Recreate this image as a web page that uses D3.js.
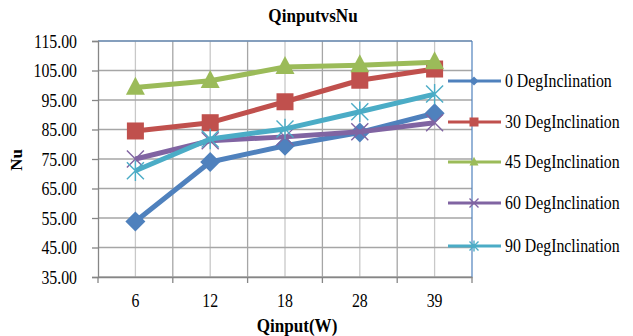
<!DOCTYPE html>
<html><head><meta charset="utf-8">
<script src="https://cdn.jsdelivr.net/npm/d3@7"></script>
<style>body{margin:0;background:#fff}svg{display:block}</style>
</head><body><svg id="c" width="633" height="336"></svg>
<script>
const categories = ["6","12","18","28","39"];
const seriesNames = ["0 DegInclination","30 DegInclination","45 DegInclination","60 DegInclination","90 DegInclination"];
const deg0  = [53.8, 74.0, 79.5, 84.0, 90.5];
const deg30 = [84.5, 87.3, 94.4, 101.7, 105.5];
const deg45 = [99.2, 101.5, 106.2, 106.8, 107.8];
const deg60 = [75.0, 81.2, 82.5, 84.2, 87.3];
const deg90 = [71.0, 81.8, 85.2, 91.0, 97.0];
const yTicks = [35,45,55,65,75,85,95,105,115];
const colors = ["#4F81BD","#C0504D","#9BBB59","#8064A2","#4BACC6"];
const markers = ["diamond","square","triangle","x","star"];
const allSeries = [deg0,deg30,deg45,deg60,deg90];

const svg = d3.select("#c");
const L=98,R=472,T=41,B=277;
const x = d3.scaleBand().domain(categories).range([L,R]);
const y = d3.scaleLinear().domain([35,115]).range([B,T]);
const font = "Liberation Serif, DejaVu Serif, serif";
const SX = 0.88;

const g = svg.append("g");
categories.forEach(c=>{
  g.append("line").attr("x1",x(c)+x.bandwidth()/2).attr("x2",x(c)+x.bandwidth()/2)
   .attr("y1",T).attr("y2",B).attr("stroke","#c8c8c8").attr("stroke-width",1.3);
});
categories.forEach((c,i)=>{
  if(i>0) g.append("line").attr("x1",x(c)).attr("x2",x(c)).attr("y1",T).attr("y2",B)
   .attr("stroke","#a6a6a6").attr("stroke-width",1.3);
});
yTicks.forEach(t=>{
  g.append("line").attr("x1",L).attr("x2",R).attr("y1",y(t)).attr("y2",y(t))
   .attr("stroke","#a6a6a6").attr("stroke-width",1.3);
});
g.append("line").attr("x1",L).attr("x2",R).attr("y1",T).attr("y2",T).attr("stroke","#4F81BD").attr("stroke-width",1.2);
g.append("line").attr("x1",R).attr("x2",R).attr("y1",T).attr("y2",B).attr("stroke","#4F81BD").attr("stroke-width",1.2);

// y axis (labels drawn separately for condensed text)
const yAxis = d3.axisLeft(y).tickValues(yTicks).tickSize(6).tickFormat("");
const ya = svg.append("g").attr("transform",`translate(${L},0)`).call(yAxis);
ya.select(".domain").attr("stroke","#868686").attr("stroke-width",1.3);
ya.selectAll(".tick line").attr("stroke","#868686").attr("stroke-width",1.3);
ya.selectAll(".tick").append("text")
  .attr("transform",`translate(-21,6) scale(${SX},1)`).attr("text-anchor","end")
  .style("font-family",font).style("font-size","18px").attr("fill","#000")
  .text(d=>d3.format(".2f")(d));

const xAxis = d3.axisBottom(x).tickSize(0).tickFormat("");
const xa = svg.append("g").attr("transform",`translate(0,${B})`).call(xAxis);
xa.select(".domain").attr("stroke","#868686").attr("stroke-width",1.3);
xa.selectAll(".tick").append("text")
  .attr("transform",`translate(0,30) scale(${SX},1)`).attr("text-anchor","middle")
  .style("font-family",font).style("font-size","18px").attr("fill","#000").text(d=>d);
const bounds = categories.map(c=>x(c)).concat([R]);
xa.selectAll(".btick").data(bounds).enter().append("line").attr("class","btick")
  .attr("x1",d=>d).attr("x2",d=>d).attr("y1",0).attr("y2",6).attr("stroke","#868686").attr("stroke-width",1.3);

function drawMarker(sel,type,color,s){
  if(type==="diamond"){
    sel.append("path").attr("d",`M0,${-s}L${s},0L0,${s}L${-s},0Z`).attr("fill",color);
  } else if(type==="square"){
    sel.append("rect").attr("x",-s).attr("y",-s).attr("width",2*s).attr("height",2*s).attr("fill",color);
  } else if(type==="triangle"){
    sel.append("path").attr("d",`M0,${-s*1.15}L${s},${s*0.75}L${-s},${s*0.75}Z`).attr("fill",color);
  } else if(type==="x"){
    sel.append("path").attr("d",`M${-s},${-s}L${s},${s}M${-s},${s}L${s},${-s}`).attr("stroke",color).attr("stroke-width",1.4);
  } else {
    sel.append("path").attr("d",`M${-s},${-s}L${s},${s}M${-s},${s}L${s},${-s}M0,${-s*1.2}L0,${s*1.2}`).attr("stroke",color).attr("stroke-width",1.4);
  }
}
const msize=[10,8.5,9.5,8.5,8.5];

const line = d3.line().x((d,i)=>x(categories[i])+x.bandwidth()/2).y(d=>y(d));
allSeries.forEach((vals,si)=>{
  const sg = svg.append("g");
  sg.append("path").attr("d",line(vals)).attr("fill","none").attr("stroke",colors[si])
    .attr("stroke-width",5).attr("stroke-linejoin","round");
  vals.forEach((v,i)=>{
    const mg = sg.append("g").attr("transform",`translate(${x(categories[i])+x.bandwidth()/2},${y(v)})`);
    drawMarker(mg,markers[si],colors[si],msize[si]);
  });
});

const legY=[81,122,162,203,246];
seriesNames.forEach((n,si)=>{
  const lg = svg.append("g").attr("transform",`translate(0,${legY[si]})`);
  lg.append("line").attr("x1",448).attr("x2",501).attr("y1",0).attr("y2",0).attr("stroke",colors[si]).attr("stroke-width",3);
  const mg = lg.append("g").attr("transform","translate(474,0)");
  drawMarker(mg,markers[si],colors[si],4.5);
  lg.append("text").attr("transform",`translate(505,6) scale(${SX},1)`).style("font-family",font).style("font-size","18px").text(n);
});

svg.append("text").attr("transform",`translate(313,22) scale(0.9,1)`).attr("text-anchor","middle").style("font-family",font)
  .style("font-weight","bold").style("font-size","19px").text("QinputvsNu");
svg.append("text").attr("transform",`translate(297,332) scale(0.9,1)`).attr("text-anchor","middle").style("font-family",font)
  .style("font-weight","bold").style("font-size","19px").text("Qinput(W)");
svg.append("text").attr("transform","translate(22,160) rotate(-90)").attr("text-anchor","middle").style("font-family",font)
  .style("font-weight","bold").style("font-size","17px").text("Nu");
</script></body></html>
